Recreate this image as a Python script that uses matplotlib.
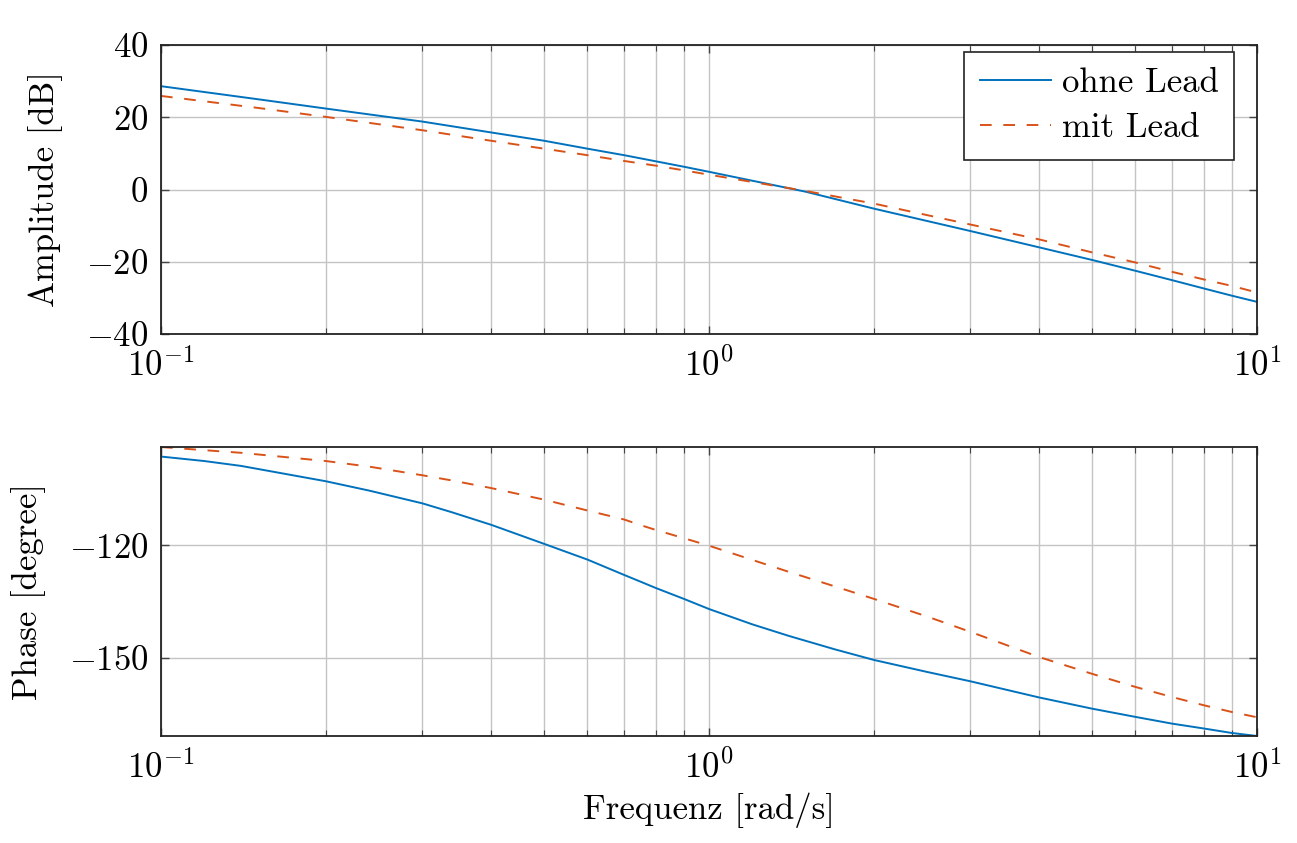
import matplotlib
matplotlib.use("Agg")
import matplotlib.pyplot as plt
from matplotlib.ticker import LogLocator, NullFormatter, FixedLocator

plt.rcParams['font.family'] = 'serif'
plt.rcParams['font.serif'] = ['cmr10']
plt.rcParams['mathtext.fontset'] = 'cm'
plt.rcParams['axes.formatter.use_mathtext'] = True
plt.rcParams['axes.unicode_minus'] = True

# amplitude plot: frequencies [rad/s] and amplitude [dB]
freq_amp = [0.1, 0.15, 0.2, 0.3, 0.4, 0.5, 0.6, 0.7, 0.8, 0.9, 1.0,
            1.5, 2, 3, 4, 5, 6, 7, 8, 9, 10]
amp_ohne = [28.6, 25.0, 22.4, 18.8, 15.8, 13.5, 11.3, 9.5, 7.8, 6.3, 4.9,
            -0.6, -5.3, -11.5, -16.0, -19.5, -22.5, -25.1, -27.4, -29.4, -31.1]
amp_mit = [25.9, 22.6, 20.1, 16.4, 13.5, 11.3, 9.5, 7.9, 6.6, 5.3, 4.1,
           -0.4, -3.9, -9.7, -13.8, -17.4, -20.2, -22.8, -24.9, -26.7, -28.5]

# phase plot: frequencies [rad/s] and phase [degree]
freq_ph = [0.1, 0.12, 0.14, 0.2, 0.24, 0.3, 0.34, 0.4, 0.5, 0.6, 0.7, 0.75, 0.8, 0.9, 1.0,
           1.2, 1.4, 1.7, 2, 2.5, 3, 4, 5, 6, 7, 8, 9, 10]
ph_ohne = [-96.3, -97.5, -98.8, -102.9, -105.4, -108.8, -111.2, -114.5, -119.6, -123.8, -127.9,
           -129.7, -131.4, -134.3, -137.0, -141.1, -144.2, -147.8, -150.6, -153.8, -156.3,
           -160.6, -163.6, -165.8, -167.6, -168.9, -170.1, -170.9]
ph_mit = [-93.75, -94.6, -95.3, -97.5, -99.0, -101.3, -102.7, -104.7, -107.8, -110.7, -113.1,
          -114.6, -115.9, -118.1, -120.1, -123.9, -127.1, -131.0, -134.3, -139.0, -143.1,
          -149.8, -154.3, -157.8, -160.5, -162.7, -164.5, -165.9]

labels = ['ohne Lead', 'mit Lead']
amp_ticks = [-40, -20, 0, 20, 40]
ph_ticks = [-150, -120]

blue = '#0072BD'
orange = '#D95319'
W, H = 1297, 843
fig = plt.figure(figsize=(W / 100, H / 100), dpi=100)

def box(l, t, r, b):
    return [l / W, 1 - b / H, (r - l) / W, (b - t) / H]

ax1 = fig.add_axes(box(161, 45, 1257, 334))
ax2 = fig.add_axes(box(161, 447, 1257, 736))

fs = 25
for ax in (ax1, ax2):
    ax.set_xscale('log')
    ax.set_xlim(0.1, 10)
    ax.xaxis.set_major_locator(LogLocator(base=10, numticks=10))
    ax.xaxis.set_minor_locator(LogLocator(base=10, subs=range(2, 10), numticks=10))
    ax.xaxis.set_minor_formatter(NullFormatter())
    ax.grid(True, which='major', color='#c4c4c4', lw=1.0)
    ax.grid(True, which='minor', axis='x', color='#c4c4c4', lw=1.0)
    ax.set_axisbelow(True)
    ax.tick_params(which='both', direction='in', top=True, right=True,
                   labelsize=fs, colors='#444444', labelcolor='black')
    ax.tick_params(axis='y', pad=9)
    ax.tick_params(axis='x', pad=10)
    ax.tick_params(which='major', length=6, width=1.0)
    ax.tick_params(which='minor', length=4, width=0.8)
    for s in ax.spines.values():
        s.set_color('#222222')
        s.set_linewidth(1.3)

ax1.plot(freq_amp, amp_ohne, color=blue, lw=1.4, label=labels[0])
ax1.plot(freq_amp, amp_mit, color=orange, lw=1.4, dashes=(6, 6), label=labels[1])
ax1.set_ylim(-40, 40)
ax1.yaxis.set_major_locator(FixedLocator(amp_ticks))
ax1.set_ylabel('Amplitude [dB]', fontsize=fs)
ax1.yaxis.set_label_coords((63 - 161) / 1096, 0.5)

ax2.plot(freq_ph, ph_ohne, color=blue, lw=1.4)
ax2.plot(freq_ph, ph_mit, color=orange, lw=1.4, dashes=(6, 6))
ax2.set_ylim(min(ph_ohne), max(ph_mit))
ax2.yaxis.set_major_locator(FixedLocator(ph_ticks))
ax2.set_ylabel('Phase [degree]', fontsize=fs)
ax2.yaxis.set_label_coords((46 - 161) / 1096, 0.5)
ax2.set_xlabel('Frequenz [rad/s]', fontsize=fs)
ax2.xaxis.set_label_coords(0.5, (736 - 793) / 289)

leg = ax1.legend(loc='upper right', bbox_to_anchor=((1234 - 161) / 1096, (334 - 52) / 289),
                 borderaxespad=0, fontsize=fs, fancybox=False, framealpha=1,
                 edgecolor='#222222', handlelength=2.05, handletextpad=0.3,
                 borderpad=0.45, labelspacing=0.38)
leg.get_frame().set_linewidth(1.2)

fig.savefig('out.png', dpi=100)
